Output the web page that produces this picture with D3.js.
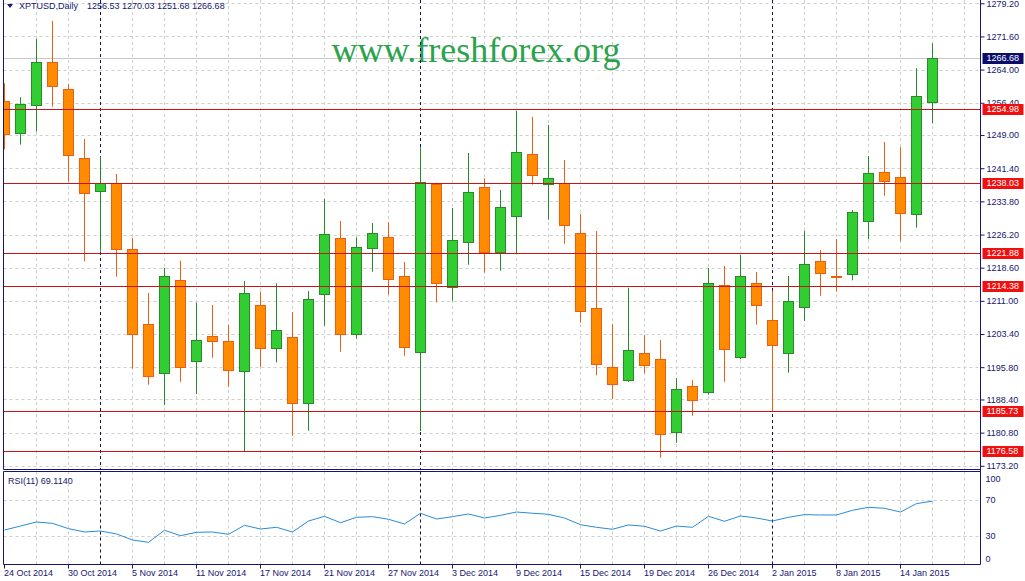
<!DOCTYPE html>
<html><head><meta charset="utf-8">
<script src="https://cdn.jsdelivr.net/npm/d3@7/dist/d3.min.js"></script>
<style>
html,body{margin:0;padding:0;background:#fff;}
svg{display:block;}
text{font-family:"Liberation Sans",Arial,sans-serif;}
</style></head>
<body>
<script>
// ---------- DATA ----------
const symbol = "XPTUSD,Daily";
const dates = ["2014-10-24","2014-10-27","2014-10-28","2014-10-29","2014-10-30","2014-10-31",
"2014-11-03","2014-11-04","2014-11-05","2014-11-06","2014-11-07","2014-11-10","2014-11-11",
"2014-11-12","2014-11-13","2014-11-14","2014-11-17","2014-11-18","2014-11-19","2014-11-20",
"2014-11-21","2014-11-24","2014-11-25","2014-11-26","2014-11-27","2014-11-28","2014-12-01",
"2014-12-02","2014-12-03","2014-12-04","2014-12-05","2014-12-08","2014-12-09","2014-12-10",
"2014-12-11","2014-12-12","2014-12-15","2014-12-16","2014-12-17","2014-12-18","2014-12-19",
"2014-12-22","2014-12-23","2014-12-24","2014-12-26","2014-12-29","2014-12-30","2014-12-31",
"2015-01-02","2015-01-05","2015-01-06","2015-01-07","2015-01-08","2015-01-09","2015-01-12",
"2015-01-13","2015-01-14","2015-01-15","2015-01-16"];
const opens  = [1256.75,1249.41,1255.83,1265.69,1259.50,1243.68,1236.11,1237.95,1222.82,1205.62,
1194.39,1215.78,1197.28,1202.94,1201.73,1194.85,1209.98,1200.12,1202.64,1187.51,
1212.50,1225.34,1203.33,1223.05,1225.57,1216.62,1199.20,1237.79,1214.11,1224.42,
1237.03,1222.13,1230.38,1244.59,1237.72,1237.95,1226.48,1209.29,1195.76,1192.78,
1198.97,1197.60,1180.86,1191.41,1190.03,1214.56,1198.05,1215.02,1206.54,1198.97,
1209.66,1220.07,1216.80,1217.08,1229.23,1240.47,1239.32,1230.84,1256.53];
const highs  = [1260.87,1257.66,1271.03,1275.15,1260.71,1248.10,1244.04,1240.08,1225.48,1212.80,
1218.53,1220.20,1210.57,1210.05,1205.46,1215.55,1213.10,1215.02,1208.44,1213.26,
1234.35,1229.30,1225.57,1228.85,1229.07,1219.90,1246.20,1238.10,1232.28,1244.89,
1239.09,1236.41,1254.52,1253.15,1251.31,1243.29,1230.91,1227.01,1205.69,1214.01,
1203.17,1202.02,1193.31,1192.85,1218.53,1218.99,1221.51,1217.61,1213.33,1216.70,
1227.01,1222.66,1225.18,1231.83,1244.20,1247.41,1246.20,1264.31,1270.03];
const lows   = [1245.74,1246.80,1249.78,1255.51,1238.31,1220.06,1222.27,1216.54,1195.44,1191.78,
1187.12,1192.46,1189.64,1197.96,1191.32,1176.58,1195.90,1196.91,1180.08,1181.23,
1205.30,1199.34,1202.32,1217.68,1212.41,1198.42,1181.16,1210.67,1211.03,1219.29,
1217.45,1217.91,1221.74,1237.63,1229.60,1224.10,1205.99,1193.93,1188.50,1192.46,
1194.39,1175.04,1178.48,1184.67,1189.48,1192.46,1197.60,1205.53,1185.73,1194.53,
1206.38,1212.18,1213.10,1215.71,1225.11,1235.10,1224.65,1227.77,1251.68];
const closes = [1249.18,1256.06,1265.69,1260.18,1244.37,1235.65,1237.95,1222.95,1203.33,1193.70,
1216.62,1195.90,1201.95,1201.86,1195.08,1212.73,1200.12,1204.25,1187.51,1211.35,
1226.25,1203.33,1223.27,1226.48,1215.94,1200.35,1238.18,1215.02,1224.88,1235.88,
1222.13,1232.45,1245.05,1239.78,1239.09,1228.32,1208.60,1196.45,1191.87,1199.66,
1196.22,1180.40,1190.72,1188.20,1215.02,1199.89,1216.62,1209.98,1200.81,1210.89,
1219.38,1217.31,1216.60,1231.44,1240.24,1238.40,1231.07,1257.89,1266.68];
const rsi = [37.0,41.4,45.9,44.4,38.5,34.8,35.9,32.6,25.9,23.3,36.7,30.7,34.4,34.8,32.2,42.2,38.1,40.0,
34.8,47.0,52.2,45.1,51.1,51.8,48.9,43.7,55.6,49.2,51.8,54.8,50.3,53.3,57.0,55.6,54.4,50.3,
42.9,40.0,37.8,42.6,41.1,35.9,41.4,40.0,52.2,46.7,52.6,50.3,47.0,51.1,54.1,53.7,53.7,58.9,
62.2,61.1,57.0,66.3,69.1140];
const levels = [1254.98,1238.03,1221.88,1214.38,1185.73,1176.58];
const priceTicks = [1279.20,1271.60,1264.00,1256.40,1249.00,1241.40,1233.80,1226.20,1218.60,
1211.00,1203.40,1195.80,1188.40,1180.80,1173.20];
const rsiTicks = [100,70,30,0];
const rsiGrid = [70,30];
const dateLabels = ["24 Oct 2014","30 Oct 2014","5 Nov 2014","11 Nov 2014","17 Nov 2014","21 Nov 2014",
"27 Nov 2014","3 Dec 2014","9 Dec 2014","15 Dec 2014","19 Dec 2014","26 Dec 2014","2 Jan 2015",
"8 Jan 2015","14 Jan 2015"];
const dateLabelIdx = [0,4,8,12,16,20,24,28,32,36,40,44,48,52,56];
const separatorIdx = [6,26,48];
const watermark = "www.freshforex.org";

// ---------- LAYOUT ----------
const W = 1025, H = 581;
const left = 3.5, right = 980.5;
const mainTop = 0, mainBot = 469.5, rsiTop = 471.5, rsiBot = 564.5;
const navy = "#161670", grid = "#cfcfcf";
const bullFill = "#32cd32", bullLine = "#2a8a2a", bearFill = "#ff8c00", bearLine = "#ee5e12";

const svg = d3.select("body").append("svg").attr("width", W).attr("height", H)
  .style("font-size", "9px");

const x = d3.scaleLinear().domain([0, 60]).range([4.5, 964.5]);
const y = d3.scaleLinear().domain([1172.35, 1279.95]).range([mainBot, mainTop]);
const yr = d3.scaleLinear().domain([0, 100]).range([563.3, 473.3]);

const gridIdx = d3.range(2, 61, 2);

// clip areas
const defs = svg.append("defs");
defs.append("clipPath").attr("id","cm").append("rect").attr("x",left).attr("y",mainTop).attr("width",right-left).attr("height",mainBot-mainTop);
defs.append("clipPath").attr("id","cr").append("rect").attr("x",left).attr("y",rsiTop).attr("width",right-left).attr("height",rsiBot-rsiTop);

const gm = svg.append("g").attr("clip-path","url(#cm)");
const gr = svg.append("g").attr("clip-path","url(#cr)");

// grid main
gm.selectAll(".hg").data(priceTicks).join("line")
  .attr("x1", left).attr("x2", right)
  .attr("y1", d => Math.round(y(d)) + 0.5).attr("y2", d => Math.round(y(d)) + 0.5)
  .attr("stroke", grid).attr("stroke-dasharray", "3,3");
gm.selectAll(".vg").data(gridIdx).join("line")
  .attr("x1", d => x(d)).attr("x2", d => x(d)).attr("y1", mainTop).attr("y2", mainBot)
  .attr("stroke", grid).attr("stroke-dasharray", "3,3");
// grid rsi
gr.selectAll(".hg").data(rsiGrid).join("line")
  .attr("x1", left).attr("x2", right)
  .attr("y1", d => Math.round(yr(d)) + 0.5).attr("y2", d => Math.round(yr(d)) + 0.5)
  .attr("stroke", grid).attr("stroke-dasharray", "3,3");
gr.selectAll(".vg").data(gridIdx).join("line")
  .attr("x1", d => x(d)).attr("x2", d => x(d)).attr("y1", rsiTop).attr("y2", rsiBot)
  .attr("stroke", grid).attr("stroke-dasharray", "3,3");

// bid line
const lastClose = closes[closes.length - 1];
gm.append("line").attr("x1", left).attr("x2", right)
  .attr("y1", Math.round(y(lastClose)) + 0.5).attr("y2", Math.round(y(lastClose)) + 0.5)
  .attr("stroke", "#c8c8c8");

// watermark
gm.append("text").attr("x", 476).attr("y", 62).attr("text-anchor", "middle")
  .style("font-family", "'Liberation Serif','Times New Roman',serif").style("font-size", "36px")
  .attr("fill", "#2ba24c").text(watermark);

// separators
[gm, gr].forEach((g, k) => {
  g.selectAll(".sep").data(separatorIdx).join("line")
    .attr("x1", d => x(d)).attr("x2", d => x(d))
    .attr("y1", k ? rsiTop : mainTop).attr("y2", k ? rsiBot : mainBot)
    .attr("stroke", "#101060").attr("stroke-dasharray", "3,3");
});

// candles
const candles = dates.map((d, i) => ({i, o: opens[i], h: highs[i], l: lows[i], c: closes[i]}));
const cg = gm.selectAll(".c").data(candles).join("g");
cg.append("line")
  .attr("x1", d => x(d.i)).attr("x2", d => x(d.i))
  .attr("y1", d => y(d.h)).attr("y2", d => y(d.l))
  .attr("stroke", d => d.c > d.o ? bullLine : bearLine);
cg.append("rect")
  .attr("x", d => x(d.i) - 5).attr("width", 10)
  .attr("y", d => Math.round(y(Math.max(d.o, d.c))) + 0.5)
  .attr("height", d => Math.max(1, Math.round(y(Math.min(d.o, d.c))) - Math.round(y(Math.max(d.o, d.c)))))
  .attr("fill", d => d.c > d.o ? bullFill : bearFill)
  .attr("stroke", d => d.c > d.o ? bullLine : bearLine);

// level lines
gm.selectAll(".lv").data(levels).join("line")
  .attr("x1", left).attr("x2", right)
  .attr("y1", d => Math.round(y(d)) + 0.5).attr("y2", d => Math.round(y(d)) + 0.5)
  .attr("stroke", "#c81414");

// RSI line
gr.append("path").datum(rsi)
  .attr("d", d3.line().x((d, i) => x(i)).y(d => yr(d)))
  .attr("fill", "none").attr("stroke", "#2a8bd6").attr("stroke-width", 1);

// borders
svg.append("line").attr("x1", left).attr("x2", left).attr("y1", 0).attr("y2", mainBot).attr("stroke", navy);
svg.append("line").attr("x1", left).attr("x2", left).attr("y1", rsiTop).attr("y2", rsiBot).attr("stroke", navy);
svg.append("line").attr("x1", right).attr("x2", right).attr("y1", 0).attr("y2", rsiBot).attr("stroke", navy);
svg.append("line").attr("x1", left).attr("x2", right).attr("y1", mainBot).attr("y2", mainBot).attr("stroke", navy);
svg.append("line").attr("x1", left).attr("x2", right).attr("y1", rsiTop).attr("y2", rsiTop).attr("stroke", navy);
svg.append("line").attr("x1", left).attr("x2", right).attr("y1", rsiBot).attr("y2", rsiBot).attr("stroke", navy);

// price axis
const pa = svg.append("g").attr("transform", `translate(${right},0)`)
  .call(d3.axisRight(y).tickValues(priceTicks).tickFormat(d3.format(".2f")).tickSize(4).tickPadding(2));
pa.select(".domain").remove();
pa.selectAll("line").attr("stroke", navy);
pa.selectAll("text").attr("fill", navy).style("font-size", "9px").style("font-family", "'Liberation Sans',Arial,sans-serif");

// level labels
const tags = levels.map(v => ({v, bg: "#f01010"})).concat([{v: lastClose, bg: "#0c0c6c"}]);
const tg = svg.selectAll(".tag").data(tags).join("g")
  .attr("transform", d => `translate(${right + 2},${Math.round(y(d.v))})`);
tg.append("rect").attr("x", 0).attr("y", -5).attr("width", 41).attr("height", 11).attr("fill", d => d.bg);
tg.append("text").attr("x", 4).attr("y", 0).attr("dy", "0.35em").attr("fill", "#fff")
  .text(d => d3.format(".2f")(d.v));

// rsi axis labels
svg.selectAll(".rl").data(rsiTicks).join("text")
  .attr("x", right + 5)
  .attr("y", d => Math.min(rsiBot - 6, Math.max(rsiTop + 7, yr(d))))
  .attr("dy", "0.35em").attr("fill", navy).text(d => d);

// date axis
const dg = svg.selectAll(".dl").data(dateLabelIdx).join("g");
dg.append("line").attr("x1", d => x(d)).attr("x2", d => x(d)).attr("y1", rsiBot).attr("y2", rsiBot + 4).attr("stroke", navy);
dg.append("text").attr("x", d => x(d) - 0.5).attr("y", 576).attr("fill", navy)
  .text((d, k) => dateLabels[k]);

// header
svg.append("path").attr("d", "M7,4 L13,4 L10,8 Z").attr("fill", navy);
svg.append("text").attr("x", 19).attr("y", 9).attr("fill", navy).text(symbol);
svg.append("text").attr("x", 87).attr("y", 9).attr("fill", navy)
  .text([opens, highs, lows, closes].map(a => a[a.length - 1].toFixed(2)).join(" "));
svg.append("text").attr("x", 8).attr("y", 484).attr("fill", navy)
  .text("RSI(11) " + rsi[rsi.length - 1].toFixed(4));
</script>
</body></html>
